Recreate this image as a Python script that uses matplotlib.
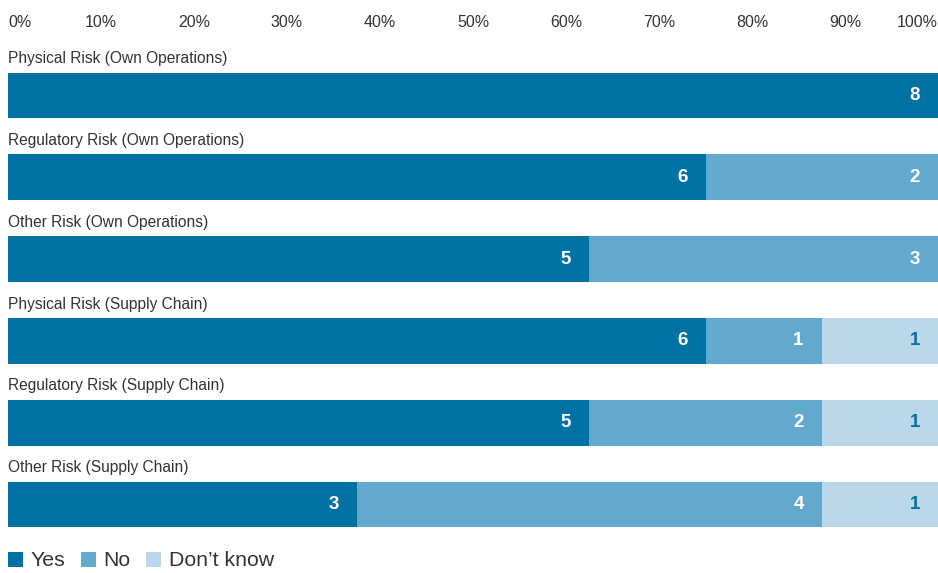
import matplotlib.pyplot as plt
from matplotlib.patches import Patch
import numpy as np

plt.rcParams['font.family'] = ['Liberation Sans', 'DejaVu Sans']

categories = ['Physical Risk (Own Operations)', 'Regulatory Risk (Own Operations)',
              'Other Risk (Own Operations)', 'Physical Risk (Supply Chain)',
              'Regulatory Risk (Supply Chain)', 'Other Risk (Supply Chain)']
yes_vals = [8, 6, 5, 6, 5, 3]
no_vals = [0, 2, 3, 1, 2, 4]
dontknow_vals = [0, 0, 0, 1, 1, 1]
series_names = ['Yes', 'No', 'Don\u2019t know']
tick_vals = [0, 10, 20, 30, 40, 50, 60, 70, 80, 90, 100]

color_yes = '#0071a3'
color_no = '#63a9cd'
color_dk = '#bbd8ea'
text_color = '#333333'

fig = plt.figure(figsize=(9.38, 5.73), dpi=100)
# axes placed in pixels: x 8..938, y 40..540
ax = fig.add_axes([8 / 938, 1 - 540 / 573, 930 / 938, 500 / 573])

counts = np.array([yes_vals, no_vals, dontknow_vals], dtype=float)
totals = counts.sum(axis=0)
pct = counts / totals * 100
y = np.arange(len(categories))
colors = [color_yes, color_no, color_dk]
label_colors = ['white', 'white', color_yes]

left = np.zeros(len(categories))
for k in range(3):
    ax.barh(y, pct[k], left=left, height=0.56, color=colors[k], linewidth=0)
    for i in range(len(categories)):
        if counts[k, i] > 0:
            ax.annotate(f'{int(counts[k, i])}', xy=(left[i] + pct[k, i], y[i]),
                        xytext=(-13, 0), textcoords='offset points',
                        ha='right', va='center', fontsize=13.5, fontweight='bold',
                        color=label_colors[k])
    left += pct[k]

for i, cat in enumerate(categories):
    ax.text(0, y[i] - 0.45, cat, ha='left', va='center', fontsize=11.2, color=text_color)

ax.set_xlim(0, 100)
ax.set_ylim(5.434, -0.678)
ax.xaxis.tick_top()
ax.set_xticks(tick_vals)
ax.set_xticklabels([f'{t}%' for t in tick_vals], fontsize=11.5, color=text_color)
ax.tick_params(axis='x', length=0, pad=7.5)
labels = ax.get_xticklabels()
labels[0].set_horizontalalignment('left')
labels[-1].set_horizontalalignment('right')
ax.set_yticks([])
for s in ax.spines.values():
    s.set_visible(False)

handles = [Patch(facecolor=c, edgecolor='none') for c in colors]
fig.legend(handles, series_names, loc='center left', bbox_to_anchor=(8 / 938, 1 - 561 / 573),
           ncol=3, frameon=False, fontsize=15.3, handlelength=0.7, handleheight=0.7,
           handletextpad=0.35, columnspacing=0.75, borderpad=0, borderaxespad=0,
           labelcolor=text_color)

plt.savefig('out.png', dpi=100)
